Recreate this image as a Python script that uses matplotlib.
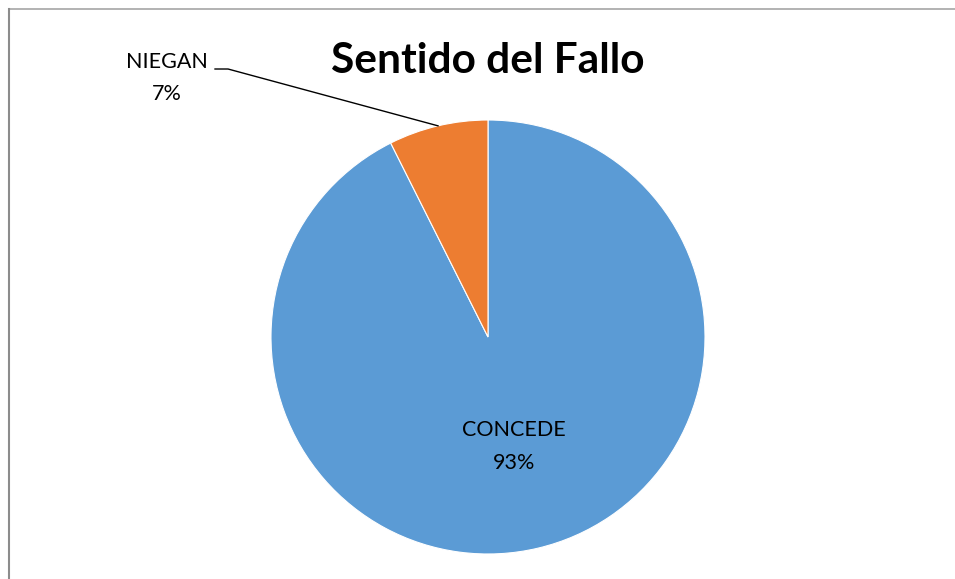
import numpy as np
import matplotlib
matplotlib.use("Agg")
import matplotlib.pyplot as plt
from matplotlib.lines import Line2D

labels = ["CONCEDE", "NIEGAN"]
values = [92.6, 7.4]
colors = ["#5B9BD5", "#ED7D31"]

plt.rcParams['font.family'] = ['Lato', 'DejaVu Sans']

fig = plt.figure(figsize=(9.55, 5.79), dpi=100)
W, H = 955, 579

# chart area border (only top and left visible)
fig.add_artist(Line2D([9/W, 1], [1-9/H, 1-9/H], color="#a6a6a6", lw=1.2))
fig.add_artist(Line2D([9/W, 9/W], [0, 1-9/H], color="#8c8c8c", lw=1.5))

r = 217
cx, cy = 488, 337
ax = fig.add_axes([(cx-r)/W, (H-cy-r)/H, 2*r/W, 2*r/H])
wedges, _ = ax.pie(values, colors=colors, startangle=90, counterclock=False,
                   radius=1, wedgeprops=dict(edgecolor="white", linewidth=0.8))
ax.set_xlim(-1, 1)
ax.set_ylim(-1, 1)
ax.set_aspect("equal")
ax.axis("off")

pcts = [f"{v:.0f}%" for v in values]

# inside label for CONCEDE
w = wedges[0]
mid = np.deg2rad((w.theta1 + w.theta2) / 2)
ax.text(0.52*np.cos(mid), 0.52*np.sin(mid), f"{labels[0]}\n{pcts[0]}",
        ha="center", va="center", fontsize=15.5, linespacing=1.8)

# outside label for NIEGAN with leader line
w = wedges[1]
mid = np.deg2rad((w.theta1 + w.theta2) / 2)
x0, y0 = np.cos(mid), np.sin(mid)
ax.plot([x0, -1.198, -1.258], [y0, 1.235, 1.235], color="black", lw=1,
        clip_on=False)
ax.text(-1.479, 1.194, f"{labels[1]}\n{pcts[1]}", ha="center", va="center",
        fontsize=15.5, linespacing=1.8, clip_on=False)

fig.text(488/W, 1-61/H, "Sentido del Fallo", ha="center", va="center",
         fontsize=30.5, fontweight="bold")

fig.savefig("out.png", dpi=100)
